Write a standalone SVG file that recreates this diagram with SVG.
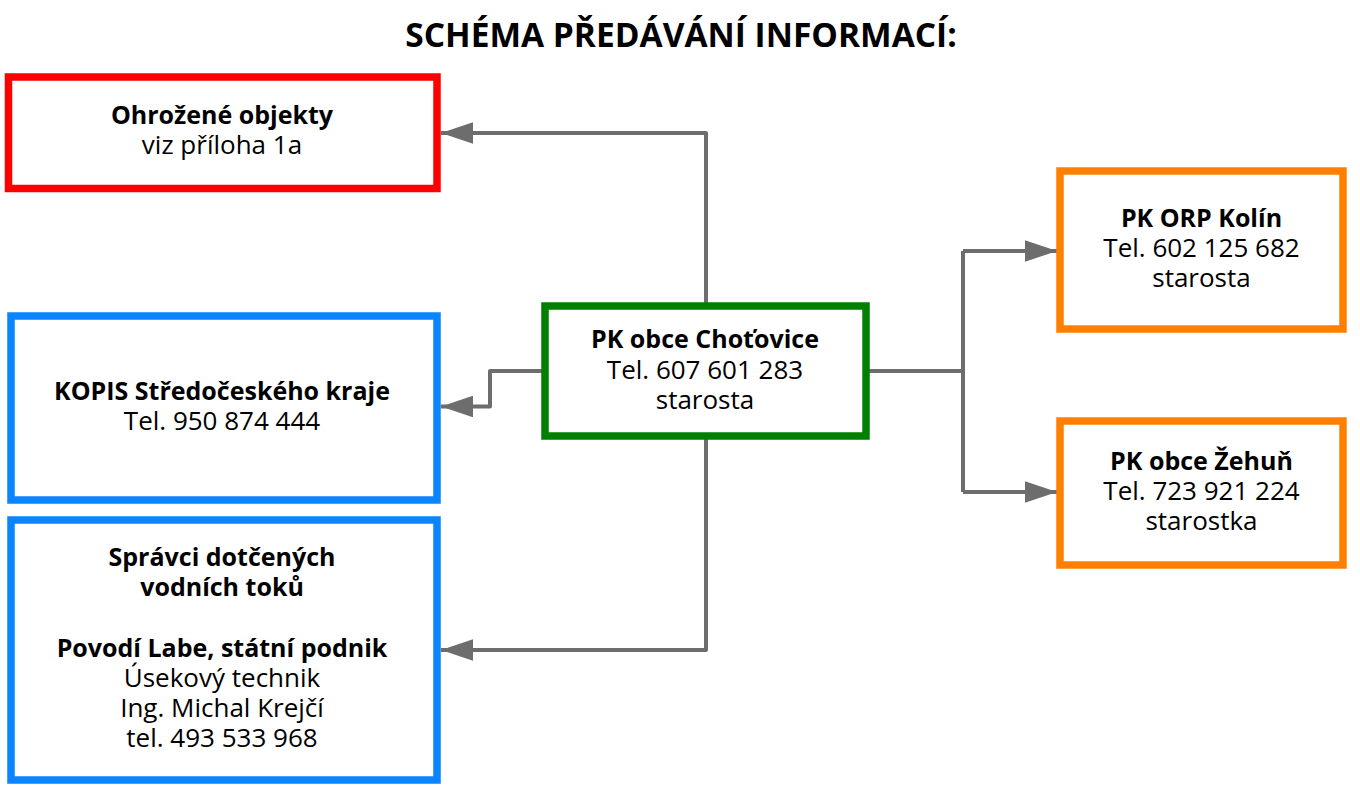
<svg xmlns="http://www.w3.org/2000/svg" width="1360" height="787" viewBox="0 0 1360 787">
<defs>
<marker id="arr" markerWidth="8" markerHeight="5.4" refX="8" refY="2.7" orient="auto" markerUnits="strokeWidth">
<path d="M0,0 L8,2.7 L0,5.4 Z" fill="#6d6d6d"/>
</marker>
<style>
.box{fill:#fff;stroke-width:7.5}
.t{font-family:"Open Sans","Liberation Sans",sans-serif;font-size:26px;fill:#000;text-anchor:middle}
.b{font-weight:bold;font-size:25px}
.c{fill:none;stroke:#6d6d6d;stroke-width:4;stroke-linejoin:round}
</style>
</defs>
<rect width="1360" height="787" fill="#fff"/>
<text x="681" y="47" class="t b" style="font-size:33.5px">SCHÉMA PŘEDÁVÁNÍ INFORMACÍ:</text>
<g id="connectors">
<path class="c" d="M706,306 V133 H441" marker-end="url(#arr)"/>
<path class="c" d="M545,371 H490 V406.5 H441" marker-end="url(#arr)"/>
<path class="c" d="M706,436 V650 H441" marker-end="url(#arr)"/>
<path class="c" d="M866,371 H963 M963,251 V492" />
<path class="c" d="M963,251 H1057" marker-end="url(#arr)"/>
<path class="c" d="M963,492 H1057" marker-end="url(#arr)"/>
</g>
<g id="ohrozene">
<rect class="box" x="8.5" y="77" width="428.5" height="111.5" stroke="#ff0000"/>
<text class="t b" x="222" y="124">Ohrožené objekty</text>
<text class="t" x="222" y="154">viz příloha 1a</text>
</g>
<g id="kopis">
<rect class="box" x="11" y="316" width="426" height="184" stroke="#0a84ff"/>
<text class="t b" x="222" y="400">KOPIS Středočeského kraje</text>
<text class="t" x="222" y="430">Tel. 950 874 444</text>
</g>
<g id="spravci">
<rect class="box" x="11" y="520" width="426" height="260" stroke="#0a84ff"/>
<text class="t b" x="222" y="566">Správci dotčených</text>
<text class="t b" x="222" y="596">vodních toků</text>
<text class="t b" x="222" y="657">Povodí Labe, státní podnik</text>
<text class="t" x="222" y="687">Úsekový technik</text>
<text class="t" x="222" y="717">Ing. Michal Krejčí</text>
<text class="t" x="222" y="747">tel. 493 533 968</text>
</g>
<g id="chotovice">
<rect class="box" x="545" y="306" width="321" height="130" stroke="#008000"/>
<text class="t b" x="705" y="348">PK obce Choťovice</text>
<text class="t" x="705" y="379">Tel. 607 601 283</text>
<text class="t" x="705" y="409">starosta</text>
</g>
<g id="kolin">
<rect class="box" x="1060" y="171" width="283" height="158" stroke="#ff8000"/>
<text class="t b" x="1201.5" y="227">PK ORP Kolín</text>
<text class="t" x="1201.5" y="257">Tel. 602 125 682</text>
<text class="t" x="1201.5" y="287">starosta</text>
</g>
<g id="zehun">
<rect class="box" x="1060" y="421" width="283" height="144" stroke="#ff8000"/>
<text class="t b" x="1201.5" y="470">PK obce Žehuň</text>
<text class="t" x="1201.5" y="500">Tel. 723 921 224</text>
<text class="t" x="1201.5" y="530">starostka</text>
</g>
</svg>
